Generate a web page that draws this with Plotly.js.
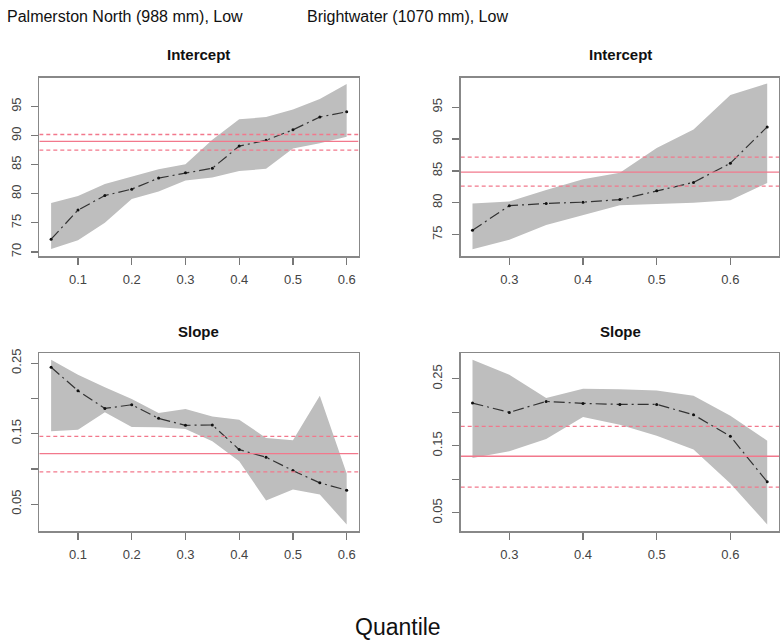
<!DOCTYPE html>
<html>
<head>
<meta charset="utf-8">
<script src="https://cdn.plot.ly/plotly-3.0.1.min.js"></script>
<style>html,body{margin:0;padding:0;background:#fff;}#chart{width:780px;height:641px;}</style>
</head>
<body>
<div id="chart"></div>
<script>
// Quantiles
const quantA = [0.05,0.10,0.15,0.20,0.25,0.30,0.35,0.40,0.45,0.50,0.55,0.60];
const quantB = [0.25,0.30,0.35,0.40,0.45,0.50,0.55,0.60,0.65];

// Palmerston North – Intercept
const pnIntEst = [72.2,77.2,79.7,80.8,82.7,83.6,84.4,88.2,89.2,91.0,93.2,94.1];
const pnIntLo  = [70.5,72.0,75.0,79.1,80.4,82.3,82.8,83.9,84.3,87.8,88.7,89.8];
const pnIntHi  = [78.4,79.6,81.7,83.0,84.2,85.1,89.3,92.8,93.2,94.5,96.3,98.9];
const pnIntOls = [89.0,87.5,90.2];   // estimate, lower, upper

// Brightwater – Intercept
const bwIntEst = [75.7,79.55,79.9,80.1,80.5,81.9,83.2,86.2,91.9];
const bwIntLo  = [72.7,74.2,76.5,78.1,79.6,79.8,80.0,80.4,83.1];
const bwIntHi  = [79.9,80.2,82.0,83.7,84.7,88.6,91.5,96.9,98.7];
const bwIntOls = [84.8,82.6,87.15];

// Palmerston North – Slope
const pnSlpEst = [0.2443,0.2108,0.1858,0.1910,0.1717,0.1618,0.1623,0.1274,0.1165,0.0976,0.0802,0.0698];
const pnSlpLo  = [0.1533,0.1557,0.1802,0.1594,0.1590,0.1566,0.1392,0.1108,0.0552,0.0708,0.0637,0.0212];
const pnSlpHi  = [0.2547,0.2335,0.2160,0.1990,0.1792,0.1849,0.1745,0.1698,0.1439,0.1406,0.2038,0.0934];
const pnSlpOls = [0.1217,0.0958,0.1462];

// Brightwater – Slope
const bwSlpEst = [0.2138,0.1999,0.2163,0.2133,0.2118,0.2118,0.1964,0.1641,0.0962];
const bwSlpLo  = [0.1319,0.1418,0.1602,0.1929,0.1815,0.1651,0.1443,0.0937,0.0326];
const bwSlpHi  = [0.2783,0.2560,0.2212,0.2351,0.2346,0.2326,0.2247,0.1949,0.1577];
const bwSlpOls = [0.1344,0.0882,0.1790];

// Tick labels
const xTicksA = [0.1,0.2,0.3,0.4,0.5,0.6];
const xTicksB = [0.3,0.4,0.5,0.6];
const yTicksPnInt = [70,75,80,85,90,95];
const yTicksBwInt = [75,80,85,90,95];
const yTicksSlope = [0.05,0.10,0.15,0.20,0.25];
const yTextSlope  = ['0.05','','0.15','','0.25'];

const titles = ['Palmerston North (988 mm), Low','Brightwater (1070 mm), Low'];
const panelTitles = ['Intercept','Slope'];
const xLabel = 'Quantile';

// axis ranges (R-style 4% padding)
const xRangeA = [0.028, 0.622];
const xRangeB = [0.234, 0.666];

const BAND = '#bebebe';
const PINK = '#f2788c';
const traces = [];

function panel(xs, est, lo, hi, ols, xr, xa, ya) {
  traces.push({x: xs, y: lo, xaxis: xa, yaxis: ya, mode: 'lines', line: {width: 0, color: BAND}, hoverinfo: 'skip', showlegend: false});
  traces.push({x: xs, y: hi, xaxis: xa, yaxis: ya, mode: 'lines', line: {width: 0, color: BAND}, fill: 'tonexty', fillcolor: BAND, hoverinfo: 'skip', showlegend: false});
  traces.push({x: xs, y: est, xaxis: xa, yaxis: ya, mode: 'lines+markers',
    line: {color: '#333', width: 1.2, dash: '11px,4px,2px,4px'},
    marker: {color: '#111', size: 3}, showlegend: false});
  ols.forEach((v, i) => {
    traces.push({x: xr, y: [v, v], xaxis: xa, yaxis: ya, mode: 'lines', showlegend: false, hoverinfo: 'skip',
      line: {color: PINK, width: 1.3, dash: i === 0 ? 'solid' : '4px,3px'}});
  });
}

panel(quantA, pnIntEst, pnIntLo, pnIntHi, pnIntOls, xRangeA, 'x', 'y');
panel(quantB, bwIntEst, bwIntLo, bwIntHi, bwIntOls, xRangeB, 'x2', 'y2');
panel(quantA, pnSlpEst, pnSlpLo, pnSlpHi, pnSlpOls, xRangeA, 'x3', 'y3');
panel(quantB, bwSlpEst, bwSlpLo, bwSlpHi, bwSlpOls, xRangeB, 'x4', 'y4');

const W = 780, H = 641;
const colL = [39.3/W, 358.5/W];
const colR = [460.7/W, 779/W];
const rowT = [1-256/H, 1-77.5/H];
const rowB = [1-531/H, 1-353.3/H];

const tickFont = {family: 'Liberation Sans, Arial, sans-serif', size: 13, color: '#444'};
function xax(domain, ticks, range, anchor) {
  return {domain: domain, range: range, anchor: anchor, tickmode: 'array', tickvals: ticks,
    ticktext: ticks.map(t => t.toFixed(1)), ticks: 'outside', ticklen: 7, tickwidth: 1.2, tickcolor: '#777',
    showline: true, linecolor: '#888', linewidth: 1.5, mirror: true, showgrid: false, zeroline: false,
    tickfont: tickFont, ticklabelstandoff: 4};
}
function yax(domain, ticks, text, range, anchor) {
  return {domain: domain, range: range, anchor: anchor, tickmode: 'array', tickvals: ticks, ticktext: text,
    ticks: 'outside', ticklen: 7, tickwidth: 1.2, tickcolor: '#777', tickangle: -90,
    showline: true, linecolor: '#888', linewidth: 1.5, mirror: true, showgrid: false, zeroline: false,
    tickfont: tickFont, ticklabelstandoff: 5};
}

const annFont = {family: 'Liberation Sans, Arial, sans-serif', size: 16, color: '#111'};
const subFont = {family: 'Liberation Sans, Arial, sans-serif', size: 15, color: '#111'};
const annotations = [
  {text: titles[0], x: 125/W, y: 1-17/H, xref: 'paper', yref: 'paper', showarrow: false, font: annFont, xanchor: 'center', yanchor: 'middle'},
  {text: titles[1], x: 407.5/W, y: 1-17/H, xref: 'paper', yref: 'paper', showarrow: false, font: annFont, xanchor: 'center', yanchor: 'middle'},
  {text: '<b>' + panelTitles[0] + '</b>', x: (colL[0]+colL[1])/2, y: 1-55/H, xref: 'paper', yref: 'paper', showarrow: false, font: subFont, xanchor: 'center', yanchor: 'middle'},
  {text: '<b>' + panelTitles[0] + '</b>', x: 620/W, y: 1-55/H, xref: 'paper', yref: 'paper', showarrow: false, font: subFont, xanchor: 'center', yanchor: 'middle'},
  {text: '<b>' + panelTitles[1] + '</b>', x: (colL[0]+colL[1])/2, y: 1-331/H, xref: 'paper', yref: 'paper', showarrow: false, font: subFont, xanchor: 'center', yanchor: 'middle'},
  {text: '<b>' + panelTitles[1] + '</b>', x: 620/W, y: 1-331/H, xref: 'paper', yref: 'paper', showarrow: false, font: subFont, xanchor: 'center', yanchor: 'middle'},
  {text: xLabel, x: 398/W, y: 1-627/H, xref: 'paper', yref: 'paper', showarrow: false, font: {family: 'Liberation Sans, Arial, sans-serif', size: 23, color: '#111'}, xanchor: 'center', yanchor: 'middle'}
];

const layout = {
  width: W, height: H, margin: {l: 0, r: 0, t: 0, b: 0},
  paper_bgcolor: '#fff', plot_bgcolor: '#fff', showlegend: false,
  xaxis: xax(colL, xTicksA, xRangeA, 'y'),
  yaxis: yax(rowT, yTicksPnInt, yTicksPnInt.map(String), [69.3, 100.0], 'x'),
  xaxis2: xax(colR, xTicksB, xRangeB, 'y2'),
  yaxis2: yax(rowT, yTicksBwInt, yTicksBwInt.map(String), [71.66, 99.64], 'x2'),
  xaxis3: xax(colL, xTicksA, xRangeA, 'y3'),
  yaxis3: yax(rowB, yTicksSlope, yTextSlope, [0.0119, 0.264], 'x3'),
  xaxis4: xax(colR, xTicksB, xRangeB, 'y4'),
  yaxis4: yax(rowB, yTicksSlope, yTextSlope, [0.0228, 0.2881], 'x4'),
  annotations: annotations
};

Plotly.newPlot('chart', traces, layout, {staticPlot: true, displayModeBar: false});
</script>
</body>
</html>
